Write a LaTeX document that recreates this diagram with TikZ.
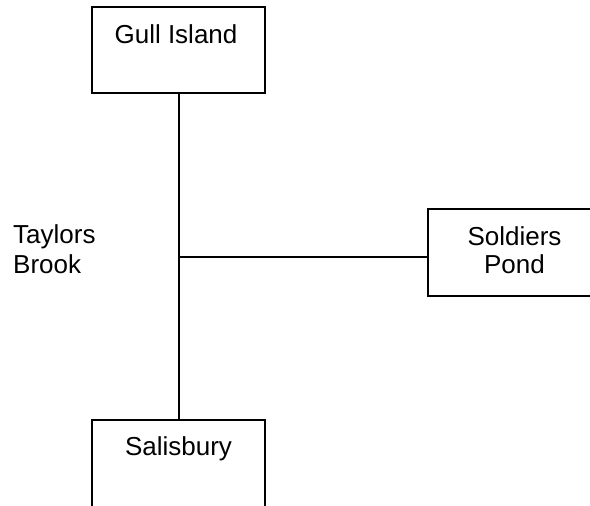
\documentclass[tikz,border=0pt]{standalone}
\usepackage{fontspec}
\setmainfont{Liberation Sans}
\begin{document}
\begin{tikzpicture}[x=1pt,y=-1pt,
  box/.style={draw, line width=1.6pt, rectangle, inner sep=0pt, outer sep=0pt},
  lbl/.style={font=\fontsize{26}{28}\selectfont, inner sep=0pt},
  link/.style={line width=1.6pt}]
\useasboundingbox (0,0) rectangle (590,506);
\clip (0,0) rectangle (590,506);
% boxes (two of them run off the page edge)
\node[box, minimum width=173pt, minimum height=86pt] (gull) at (178.5,50) {};
\node[box, minimum width=173pt, minimum height=110pt] (sal) at (178.5,475) {};
\node[box, minimum width=182pt, minimum height=87pt] (sol) at (519,252.5) {};
% labels
\node[lbl, anchor=base] (tGull) at (176,43) {Gull Island};
\node[lbl, anchor=base] (tSal) at (178.5,455) {Salisbury};
\node[lbl, anchor=base] (tSol1) at (514.5,245) {Soldiers};
\node[lbl, anchor=base] (tSol2) at (514.5,273) {Pond};
\node[lbl, anchor=base west] (tTay1) at (13,243) {Taylors};
\node[lbl, anchor=base west] (tTay2) at (13,273) {Brook};
% connectors
\coordinate (junc) at (179,257);
\draw[link] (gull.south -| junc) -- (sal.north -| junc);
\draw[link] (junc) -- (sol.west |- junc);
\end{tikzpicture}
\end{document}
